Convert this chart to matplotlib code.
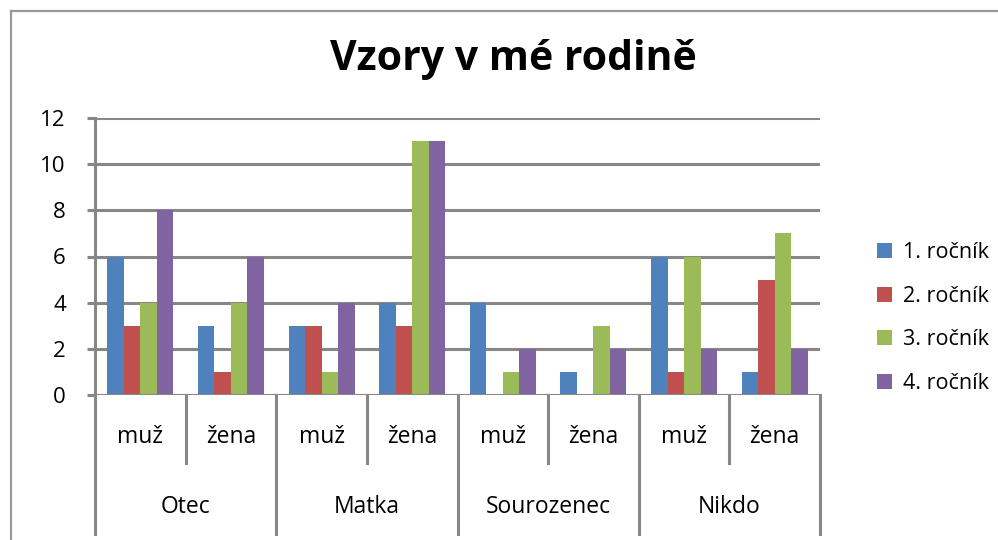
import numpy as np
import matplotlib
matplotlib.use('Agg')
import matplotlib.pyplot as plt
from matplotlib.lines import Line2D
from matplotlib.patches import Patch

plt.rcParams['font.family'] = ['Open Sans', 'DejaVu Sans']

groups = ['Otec', 'Matka', 'Sourozenec', 'Nikdo']
sub = ['muž', 'žena']
series = ['1. ročník', '2. ročník', '3. ročník', '4. ročník']
colors = ['#4F81BD', '#C0504D', '#9BBB59', '#8064A2']

# rows: Otec muž, Otec žena, Matka muž, Matka žena, Sourozenec muž, ... 
r1 = [6, 3, 3, 4, 4, 1, 6, 1]
r2 = [3, 1, 3, 3, 0, 0, 1, 5]
r3 = [4, 4, 1, 11, 1, 3, 6, 7]
r4 = [8, 6, 4, 11, 2, 2, 2, 2]
vals = [r1, r2, r3, r4]

W, H = 998, 540
fig = plt.figure(figsize=(W / 100, H / 100), dpi=100)
ax = fig.add_axes([95 / W, 145 / H, 725 / W, 277 / H])

grey = '#878787'
n = len(r1)
x = np.arange(n)
bw = 1 / 5.5
for k, v in enumerate(vals):
    ax.bar(x - 1.5 * bw + k * bw, v, width=bw, color=colors[k], zorder=3, linewidth=0)

ax.set_xlim(-0.5, n - 0.5)
ax.set_ylim(0, 12)
ax.set_yticks(range(0, 13, 2))
ax.tick_params(axis='y', length=6, width=2.2, color=grey, labelsize=16, pad=15)
ax.set_xticks([])
for s in ['top', 'right', 'bottom']:
    ax.spines[s].set_visible(False)
ax.spines['left'].set_color(grey)
ax.spines['left'].set_linewidth(2.2)
ax.spines['left'].set_zorder(4)
for yv in range(2, 13, 2):
    ax.axhline(yv, color=grey, lw=2.2, zorder=1)
ax.axhline(0, color=grey, lw=2.2, zorder=4)

# category axis lines and labels
tr = ax.get_xaxis_transform()
for i in range(n + 1):
    xb = i - 0.5
    y_end = -0.5 if i % 2 == 0 else -0.245
    ax.plot([xb, xb], [0, y_end], color=grey, lw=2.2, transform=tr, clip_on=False)
for i in range(n):
    ax.text(i, -0.15, sub[i % 2], transform=tr, ha='center', va='center', fontsize=16.5)
for g, name in enumerate(groups):
    ax.text(2 * g + 0.5, -0.405, name, transform=tr, ha='center', va='center', fontsize=16.5)

fig.suptitle('Vzory v mé rodině', x=513 / W, y=1 - 60 / H, va='center',
             fontsize=29.5, fontweight='bold')

handles = [Patch(facecolor=c) for c in colors]
fig.legend(handles, series, loc='center left', bbox_to_anchor=(858 / W, 1 - 318 / H),
           frameon=False, fontsize=15.5, handlelength=0.7, handleheight=0.7,
           handletextpad=0.5, labelspacing=1.05)

# chart border (cropped)
fig.add_artist(Line2D([11 / W, 11 / W], [0, 1 - 11 / H], color='#999999', lw=1.6))
fig.add_artist(Line2D([11 / W, 1], [1 - 11 / H, 1 - 11 / H], color='#999999', lw=1.6))

fig.savefig('out.png', dpi=100)
